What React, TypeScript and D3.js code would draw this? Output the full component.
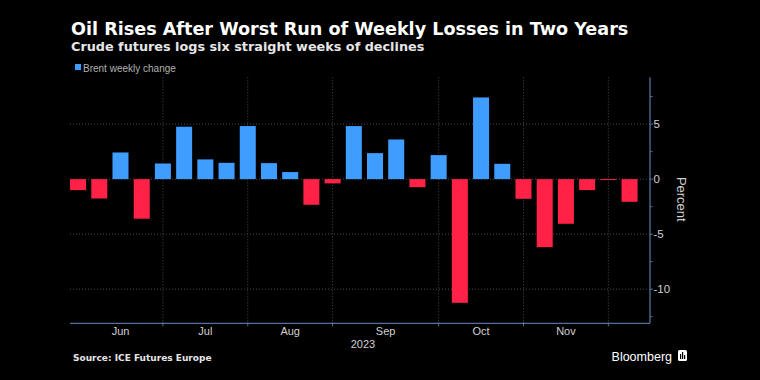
import React, { useEffect } from "react";
import * as d3 from "d3";

const weekDates: string[] = [
  "2023-06-09", "2023-06-16", "2023-06-23", "2023-06-30", "2023-07-07",
  "2023-07-14", "2023-07-21", "2023-07-28", "2023-08-04", "2023-08-11",
  "2023-08-18", "2023-08-25", "2023-09-01", "2023-09-08", "2023-09-15",
  "2023-09-22", "2023-09-29", "2023-10-06", "2023-10-13", "2023-10-20",
  "2023-10-27", "2023-11-03", "2023-11-10", "2023-11-17", "2023-11-24",
  "2023-12-01", "2023-12-08",
];
const brentChange: number[] = [
  -1.0, -1.76, 2.42, -3.6, 1.42, 4.76, 1.79, 1.48, 4.82, 1.45,
  0.64, -2.33, -0.39, 4.82, 2.36, 3.6, -0.73, 2.18, -11.24, 7.42,
  1.39, -1.79, -6.18, -4.06, -1.0, -0.08, -2.06,
];
const monthLabels: string[] = ["Jun", "Jul", "Aug", "Sep", "Oct", "Nov"];
const yMajorTicks: number[] = [5, 0, -5, -10];
const yMinorTicks: number[] = [7.5, 2.5, -2.5, -7.5, -12.5];

const W = 760;
const H = 380;
const left = 70;
const right = 650;
const top = 77.3;
const bottom = 323.3;

export default function App() {
  useEffect(() => {
    document.body.style.margin = "0";
    document.body.style.background = "#000";
  }, []);

  const parse = d3.utcParse("%Y-%m-%d");
  const dates = weekDates.map((d) => parse(d) as Date);
  const first = dates[0];
  const last = dates[dates.length - 1];
  const x = d3
    .scaleUtc()
    .domain([d3.utcHour.offset(first, -64), d3.utcHour.offset(last, 162)])
    .range([left, right]);
  const y = d3.scaleLinear().domain([-13.1, 9.25]).range([bottom, top]);
  const step = x(dates[1]) - x(dates[0]);
  const bw = step * 0.755;

  // first bar in each month
  const monthStarts: Date[] = [];
  dates.forEach((d, i) => {
    if (i === 0 || d.getUTCMonth() !== dates[i - 1].getUTCMonth()) monthStarts.push(d);
  });
  const gridDates = monthStarts.slice(1);
  const labelPos = monthLabels.map((_, i) => (x(monthStarts[i]) + x(monthStarts[i + 1])) / 2);

  const blue = "#3f9dff";
  const red = "#ff2146";
  const axisCol = "#52709e";
  const gridCol = "#4a4a4a";
  const sans = "'Liberation Sans', Arial, sans-serif";

  return (
    <svg width={W} height={H} style={{ display: "block", background: "#000" }}>
      <rect x={0} y={0} width={W} height={H} fill="#000" />
      <text x={71} y={35} fill="#fff" fontFamily="'DejaVu Sans', Verdana, sans-serif" fontWeight="bold" fontSize={17.6}>
        Oil Rises After Worst Run of Weekly Losses in Two Years
      </text>
      <text x={71} y={51} fill="#e6e6e6" fontFamily="'DejaVu Sans', Verdana, sans-serif" fontWeight="bold" fontSize={12.8}>
        Crude futures logs six straight weeks of declines
      </text>

      {/* legend */}
      <rect x={75} y={64} width={6} height={6} fill={blue} />
      <text x={83} y={71.5} fill="#b0b0b0" fontFamily={sans} fontSize={10}>
        Brent weekly change
      </text>

      {/* horizontal grid */}
      {yMajorTicks.map((t) => (
        <line key={"hg" + t} x1={left} x2={right} y1={y(t)} y2={y(t)} stroke={gridCol} strokeWidth={1} strokeDasharray="1,2" />
      ))}
      {/* vertical grid */}
      {gridDates.map((d, i) => (
        <line key={"vg" + i} x1={x(d)} x2={x(d)} y1={top} y2={bottom} stroke={gridCol} strokeWidth={1} strokeDasharray="1,2" />
      ))}

      {/* bars */}
      {brentChange.map((v, i) => {
        const cx = x(dates[i]);
        const y0 = y(0);
        const y1 = y(v);
        return (
          <rect
            key={"b" + i}
            x={cx - bw / 2}
            width={bw}
            y={Math.min(y0, y1)}
            height={Math.max(Math.abs(y1 - y0), 1)}
            fill={v >= 0 ? blue : red}
          />
        );
      })}

      {/* axes */}
      <line x1={left} x2={right} y1={bottom} y2={bottom} stroke={axisCol} strokeWidth={1.3} />
      <line x1={right} x2={right} y1={top} y2={bottom} stroke={axisCol} strokeWidth={1.3} />
      {gridDates.map((d, i) => (
        <line key={"xt" + i} x1={x(d)} x2={x(d)} y1={bottom - 1} y2={bottom + 3} stroke={axisCol} strokeWidth={1} />
      ))}
      {yMajorTicks.map((t) => (
        <line key={"yt" + t} x1={right} x2={right + 3} y1={y(t)} y2={y(t)} stroke={axisCol} strokeWidth={1} />
      ))}
      {yMinorTicks.map((t) => (
        <line key={"ym" + t} x1={right} x2={right + 2.5} y1={y(t)} y2={y(t)} stroke={axisCol} strokeWidth={1} />
      ))}
      {yMajorTicks.map((t) => (
        <text key={"yl" + t} x={right + 3.5} y={y(t)} dy="0.35em" fill="#d0d0d0" fontFamily={sans} fontSize={11.5}>
          {t < 0 ? "-" + Math.abs(t) : String(t)}
        </text>
      ))}
      <text
        transform={`translate(682,${(top + bottom) / 2 - 1}) rotate(90)`}
        textAnchor="middle"
        dy="0.35em"
        fill="#d0d0d0"
        fontFamily={sans}
        fontSize={13}
      >
        Percent
      </text>

      {/* month labels */}
      {monthLabels.map((m, i) => (
        <text key={"ml" + m} x={labelPos[i]} y={335} textAnchor="middle" fill="#d0d0d0" fontFamily={sans} fontSize={11}>
          {m}
        </text>
      ))}
      <text x={363} y={348} textAnchor="middle" fill="#d0d0d0" fontFamily={sans} fontSize={11}>
        2023
      </text>

      {/* footer */}
      <text x={73} y={361} fill="#e6e6e6" fontFamily="'DejaVu Sans', Verdana, sans-serif" fontWeight="bold" fontSize={9}>
        Source: ICE Futures Europe
      </text>
      <text x={672} y={361} textAnchor="end" fill="#fff" fontFamily={sans} fontSize={12.5}>
        Bloomberg
      </text>
      <g transform="translate(678,350)">
        <rect x={0} y={0} width={9} height={11} rx={1.5} fill="#fff" />
        <rect x={2} y={4} width={1.2} height={5} fill="#000" />
        <rect x={4} y={2} width={1.2} height={7} fill="#000" />
        <rect x={6} y={5} width={1.2} height={4} fill="#000" />
      </g>
    </svg>
  );
}
